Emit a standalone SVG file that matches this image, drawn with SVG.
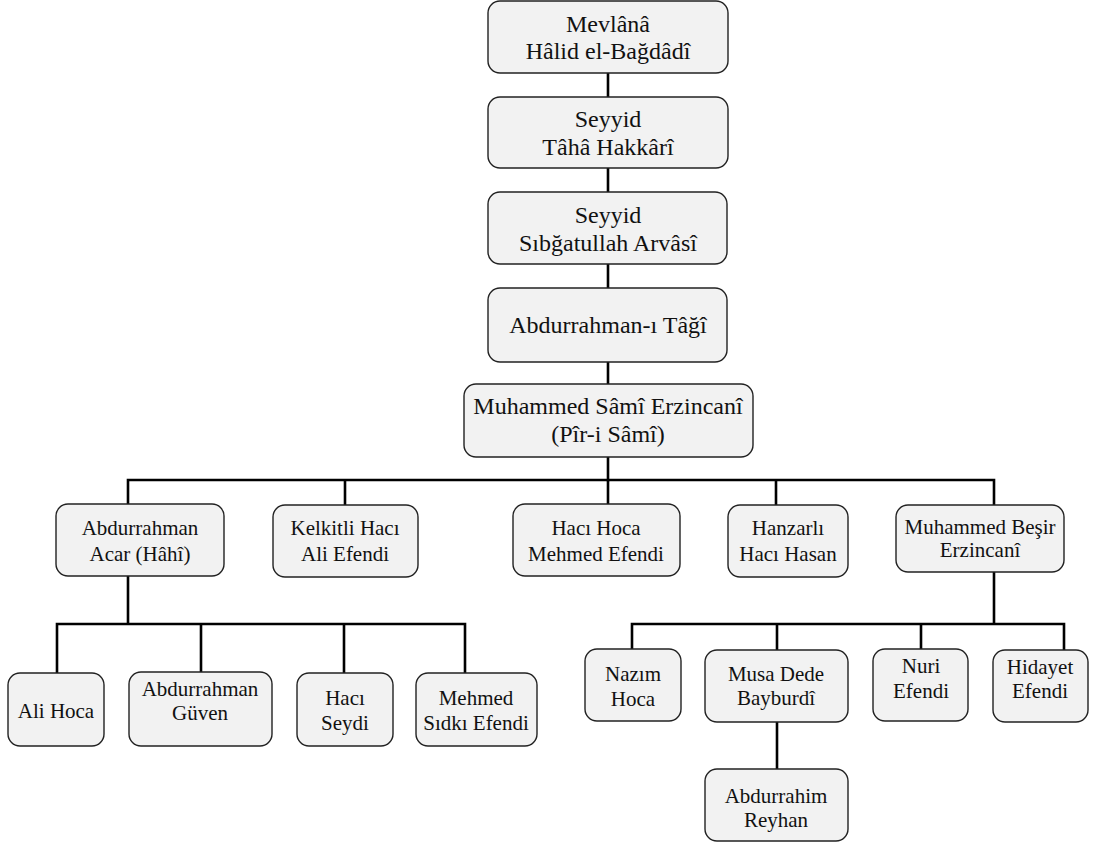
<svg xmlns="http://www.w3.org/2000/svg" width="1093" height="843" viewBox="0 0 1093 843">
<style>
.box{fill:#f2f2f2;stroke:#222;stroke-width:1.4}
.t{font-family:'Liberation Serif','Tinos','Times New Roman','Times','Nimbus Roman','Nimbus Roman No9 L','FreeSerif','Noto Serif','DejaVu Serif',serif;fill:#111;text-anchor:middle}
.b{font-size:24px}
.s{font-size:21px}
.c{stroke:#000;stroke-width:2.6;fill:none;stroke-linecap:square}
</style>
<rect width="1093" height="843" fill="#fff"/>
<g id="connectors">
<path class="c" d="M608 73V97M608 168V192M608 264V288M608 362V384M608 457V480"/>
<path class="c" d="M128 504V480H994V505M345 480V505M608 480V504M776 480V505"/>
<path class="c" d="M128 576V624M57 673V624H465V673M201 624V672M344 624V673"/>
<path class="c" d="M994 572V624M632 649V624H1064V650M777 624V650M921 624V649"/>
<path class="c" d="M777 722V769"/>
</g>
<g id="n1"><rect class="box" x="488" y="1" width="240" height="72" rx="12"/><text class="t b" x="608" y="32">Mevlânâ</text><text class="t b" x="608" y="59">Hâlid el-Bağdâdî</text></g>
<g id="n2"><rect class="box" x="488" y="97" width="240" height="71" rx="12"/><text class="t b" x="608" y="127">Seyyid</text><text class="t b" x="608" y="155">Tâhâ Hakkârî</text></g>
<g id="n3"><rect class="box" x="488" y="192" width="239" height="72" rx="12"/><text class="t b" x="608" y="223">Seyyid</text><text class="t b" x="608" y="251">Sıbğatullah Arvâsî</text></g>
<g id="n4"><rect class="box" x="488" y="288" width="239" height="74" rx="12"/><text class="t b" x="608" y="333">Abdurrahman-ı Tâğî</text></g>
<g id="n5"><rect class="box" x="464" y="384" width="289" height="73" rx="12"/><text class="t b" x="608" y="414">Muhammed Sâmî Erzincanî</text><text class="t b" x="608" y="442">(Pîr-i Sâmî)</text></g>
<g id="n6"><rect class="box" x="56" y="504" width="168" height="72" rx="12"/><text class="t s" x="140" y="535">Abdurrahman</text><text class="t s" x="140" y="561">Acar (Hâhî)</text></g>
<g id="n7"><rect class="box" x="273" y="505" width="145" height="72" rx="12"/><text class="t s" x="345" y="535">Kelkitli Hacı</text><text class="t s" x="345" y="561">Ali Efendi</text></g>
<g id="n8"><rect class="box" x="513" y="504" width="167" height="72" rx="12"/><text class="t s" x="596" y="535">Hacı Hoca</text><text class="t s" x="596" y="561">Mehmed Efendi</text></g>
<g id="n9"><rect class="box" x="728" y="505" width="120" height="72" rx="12"/><text class="t s" x="788" y="535">Hanzarlı</text><text class="t s" x="788" y="561">Hacı Hasan</text></g>
<g id="n10"><rect class="box" x="896" y="505" width="168" height="67" rx="12"/><text class="t s" x="980" y="534">Muhammed Beşir</text><text class="t s" x="980" y="557">Erzincanî</text></g>
<g id="n11"><rect class="box" x="8" y="673" width="96" height="73" rx="12"/><text class="t s" x="56" y="718">Ali Hoca</text></g>
<g id="n12"><rect class="box" x="129" y="672" width="143" height="74" rx="12"/><text class="t s" x="200" y="696">Abdurrahman</text><text class="t s" x="200" y="720">Güven</text></g>
<g id="n13"><rect class="box" x="297" y="673" width="96" height="73" rx="12"/><text class="t s" x="345" y="705">Hacı</text><text class="t s" x="345" y="730">Seydi</text></g>
<g id="n14"><rect class="box" x="416" y="673" width="121" height="73" rx="12"/><text class="t s" x="476" y="705">Mehmed</text><text class="t s" x="476" y="730">Sıdkı Efendi</text></g>
<g id="n15"><rect class="box" x="585" y="649" width="96" height="72" rx="12"/><text class="t s" x="633" y="681">Nazım</text><text class="t s" x="633" y="706">Hoca</text></g>
<g id="n16"><rect class="box" x="705" y="650" width="143" height="72" rx="12"/><text class="t s" x="776" y="681">Musa Dede</text><text class="t s" x="776" y="705">Bayburdî</text></g>
<g id="n17"><rect class="box" x="873" y="649" width="95" height="72" rx="12"/><text class="t s" x="921" y="673">Nuri</text><text class="t s" x="921" y="698">Efendi</text></g>
<g id="n18"><rect class="box" x="993" y="650" width="95" height="72" rx="12"/><text class="t s" x="1040" y="674">Hidayet</text><text class="t s" x="1040" y="698">Efendi</text></g>
<g id="n19"><rect class="box" x="705" y="769" width="143" height="72" rx="12"/><text class="t s" x="776" y="803">Abdurrahim</text><text class="t s" x="776" y="827">Reyhan</text></g>
</svg>
